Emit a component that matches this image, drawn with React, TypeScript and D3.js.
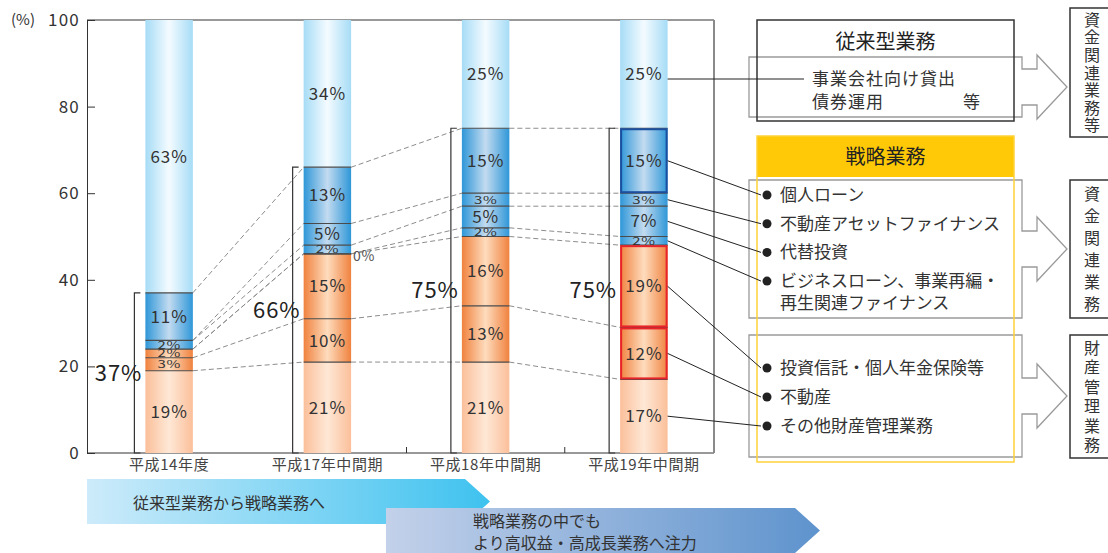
import { useEffect, useRef } from "react";
import * as d3 from "d3";

// Periods on the x axis
const periods = ["平成14年度", "平成17年中間期", "平成18年中間期", "平成19年中間期"];

// Share of each business line (%), stacked bottom to top.
// null = line not reported in that period (no segment, no label)
const sonotaZaisan = [19, 21, 21, 17]; // その他財産管理業務
const fudosan = [3, 10, 13, 12]; // 不動産
const toshinHoken = [2, 15, 16, 19]; // 投資信託・個人年金保険等
const businessLoan = [null, 0, 2, 2]; // ビジネスローン、事業再編・再生関連
const daitaiToshi = [2, 2, 5, 7]; // 代替投資
const fudosanAF = [null, 5, 3, 3]; // 不動産アセットファイナンス
const kojinLoan = [11, 13, 15, 15]; // 個人ローン
const juraigata = [63, 34, 25, 25]; // 従来型業務

const yTicks = [0, 20, 40, 60, 80, 100];

// Right-hand legend texts
const juraiTitle = "従来型業務";
const juraiItems = ["事業会社向け貸出", "債券運用"];
const senryakuTitle = "戦略業務";
const fundingItems = ["個人ローン", "不動産アセットファイナンス", "代替投資", "ビジネスローン、事業再編・"];
const fundingItemCont = "再生関連ファイナンス";
const assetItems = ["投資信託・個人年金保険等", "不動産", "その他財産管理業務"];
const sideLabels = ["資金関連業務等", "資金関連業務", "財産管理業務"];

const arrowTexts1 = ["従来型業務から戦略業務へ"];
const arrowTexts2 = ["戦略業務の中でも", "より高収益・高成長業務へ注力"];

const FONT = "'Noto Sans CJK JP', 'Noto Sans', sans-serif";

const seriesKeys = ["sonota", "fudosan", "toshin", "bizLoan", "daitai", "fudosanAF", "kojin", "jurai"];
const seriesValues: Record<string, (number | null)[]> = {
  sonota: sonotaZaisan,
  fudosan,
  toshin: toshinHoken,
  bizLoan: businessLoan,
  daitai: daitaiToshi,
  fudosanAF,
  kojin: kojinLoan,
  jurai: juraigata,
};
const seriesFill: Record<string, string> = {
  sonota: "gPale",
  fudosan: "gOrange",
  toshin: "gOrange",
  bizLoan: "gBlue",
  daitai: "gBlue",
  fudosanAF: "gBlue",
  kojin: "gBlue",
  jurai: "gSky",
};

export default function App() {
  const svgRef = useRef<SVGSVGElement>(null);

  useEffect(() => {
    if (!svgRef.current) return;
    const svg = d3.select(svgRef.current);
    svg.selectAll("*").remove();

    const plot = { left: 87, right: 714, top: 20, bottom: 453 };

    const rows = periods.map((p, i) => {
      const r: any = { period: p };
      seriesKeys.forEach((k) => (r[k] = seriesValues[k][i]));
      return r;
    });
    const stacked = d3
      .stack<any>()
      .keys(seriesKeys)
      .value((d, k) => d[k] ?? 0)(rows);

    // band range nudged right of the frame so the bars sit where the original has them
    const x = d3
      .scaleBand()
      .domain(periods)
      .range([plot.left + 3, plot.right + 9])
      .paddingInner(0.7)
      .paddingOuter(0.35);
    const bw = x.bandwidth();
    const y = d3.scaleLinear().domain([0, 100]).range([plot.bottom, plot.top]);

    // gradients
    const defs = svg.append("defs");
    const grad = (id: string, edge: string, mid: string) => {
      const g = defs.append("linearGradient").attr("id", id).attr("x1", 0).attr("x2", 1).attr("y1", 0).attr("y2", 0);
      g.append("stop").attr("offset", "0%").attr("stop-color", edge);
      g.append("stop").attr("offset", "50%").attr("stop-color", mid);
      g.append("stop").attr("offset", "100%").attr("stop-color", edge);
    };
    grad("gSky", "#a6dcf6", "#f4fbff");
    grad("gBlue", "#2f97d8", "#c3dbf0");
    grad("gOrange", "#f0823f", "#fedcbd");
    grad("gPale", "#fbbf9a", "#fee8d6");
    const lin = (id: string, stops: [string, string]) => {
      const g = defs.append("linearGradient").attr("id", id).attr("x1", 0).attr("x2", 1);
      g.append("stop").attr("offset", "0%").attr("stop-color", stops[0]);
      g.append("stop").attr("offset", "100%").attr("stop-color", stops[1]);
    };
    lin("gArrow1", ["#cdebfa", "#3ec2ef"]);
    lin("gArrow2", ["#c3d1ea", "#5e93cd"]);

    // Y axis (ticks point inward)
    const yAxis = svg
      .append("g")
      .attr("transform", `translate(${plot.left},0)`)
      .call(d3.axisLeft(y).tickValues(yTicks).tickSize(-8).tickSizeOuter(0).tickPadding(7))
      .attr("color", "#333");
    yAxis
      .selectAll("text")
      .attr("font-size", 17)
      .attr("letter-spacing", 1.2)
      .attr("font-family", FONT)
      .attr("fill", "#333");
    svg
      .append("text")
      .attr("x", 11)
      .attr("y", y(100))
      .attr("dy", "0.35em")
      .attr("font-size", 15)
      .attr("font-family", FONT)
      .attr("fill", "#333")
      .text("(%)");

    // frame
    svg.append("line").attr("x1", plot.left).attr("x2", plot.right).attr("y1", plot.top).attr("y2", plot.top).attr("stroke", "#333");
    svg.append("line").attr("x1", plot.left).attr("x2", plot.right).attr("y1", plot.bottom).attr("y2", plot.bottom).attr("stroke", "#333");
    svg.append("line").attr("x1", plot.right).attr("x2", plot.right).attr("y1", plot.top).attr("y2", plot.bottom).attr("stroke", "#8a8a8a").attr("stroke-width", 2);

    // small x ticks between the consecutive half-year periods
    periods.slice(1, -1).forEach((p, i) => {
      const xm = ((x(p) as number) + bw + (x(periods[i + 2]) as number)) / 2;
      svg.append("line").attr("x1", xm).attr("x2", xm).attr("y1", plot.bottom).attr("y2", plot.bottom - 6).attr("stroke", "#333");
    });

    // X labels
    svg
      .selectAll(".xl")
      .data(periods)
      .join("text")
      .attr("x", (d) => (x(d) as number) + bw / 2)
      .attr("y", plot.bottom + 17)
      .attr("text-anchor", "middle")
      .attr("font-size", 15)
      .attr("letter-spacing", 0.6)
      .attr("font-family", FONT)
      .attr("fill", "#444")
      .text((d) => d);

    // dashed connectors between segment tops of consecutive bars
    stacked
      .filter((s) => s.key !== "jurai")
      .forEach((layer) => {
        for (let i = 0; i < periods.length - 1; i++) {
          svg
            .append("line")
            .attr("x1", (x(periods[i]) as number) + bw)
            .attr("y1", y(layer[i][1]))
            .attr("x2", x(periods[i + 1]) as number)
            .attr("y2", y(layer[i + 1][1]))
            .attr("stroke", "#8c8c8c")
            .attr("stroke-dasharray", "5,3");
        }
      });

    // brackets with strategic share
    const jurai = stacked.find((s) => s.key === "jurai")!;
    periods.forEach((p, i) => {
      const total = jurai[i][0];
      const bx = (x(p) as number) - 11;
      svg
        .append("path")
        .attr("d", `M${bx + 6},${y(total)}H${bx}V${y(0)}H${bx + 6}`)
        .attr("fill", "none")
        .attr("stroke", "#333")
        .attr("stroke-width", 1.2);
      svg
        .append("text")
        .attr("x", bx + 8)
        .attr("y", (y(total) + y(0)) / 2)
        .attr("dy", "0.35em")
        .attr("text-anchor", "end")
        .attr("font-size", 22)
        .attr("letter-spacing", 1)
        .attr("font-family", FONT)
        .attr("fill", "#222")
        .text(`${total}%`);
    });

    // bar segments
    stacked.forEach((layer) => {
      const vals = seriesValues[layer.key];
      layer.forEach((d, i) => {
        const v = vals[i];
        if (v == null || v === 0) return;
        const bx = x(periods[i]) as number;
        svg
          .append("rect")
          .attr("x", bx)
          .attr("y", y(d[1]))
          .attr("width", bw)
          .attr("height", y(d[0]) - y(d[1]))
          .attr("fill", `url(#${seriesFill[layer.key]})`);
      });
    });

    // boundary lines inside bars
    stacked
      .filter((s) => s.key !== "jurai")
      .forEach((layer) => {
        const vals = seriesValues[layer.key];
        layer.forEach((d, i) => {
          if (vals[i] == null) return;
          const bx = x(periods[i]) as number;
          svg.append("line").attr("x1", bx).attr("x2", bx + bw).attr("y1", y(d[1])).attr("y2", y(d[1])).attr("stroke", "#4a4a4a").attr("stroke-width", 1.2);
        });
      });

    // highlighted segments in the latest period
    const last = periods.length - 1;
    const highlight: Record<string, string> = { kojin: "#1c4f9f", toshin: "#e8242b", fudosan: "#e8242b" };
    stacked.forEach((layer) => {
      const c = highlight[layer.key];
      if (!c) return;
      const d = layer[last];
      svg
        .append("rect")
        .attr("x", (x(periods[last]) as number) + 1)
        .attr("y", y(d[1]) + 1)
        .attr("width", bw - 2)
        .attr("height", y(d[0]) - y(d[1]) - 2)
        .attr("fill", "none")
        .attr("stroke", c)
        .attr("stroke-width", 2);
    });

    // segment labels (thin segments get a vertically squashed label, as in the original)
    stacked.forEach((layer) => {
      const vals = seriesValues[layer.key];
      layer.forEach((d, i) => {
        const v = vals[i];
        if (v == null) return;
        const bx = x(periods[i]) as number;
        if (v === 0) {
          svg
            .append("text")
            .attr("x", bx + bw + 2)
            .attr("y", y(d[1]) + 7)
            .attr("font-size", 14)
            .attr("letter-spacing", 0.5)
            .attr("font-family", FONT)
            .attr("fill", "#555")
            .text("0%");
          return;
        }
        const cy = (y(d[0]) + y(d[1])) / 2;
        const thin = v < 4;
        svg
          .append("text")
          .attr("transform", `translate(${bx + bw / 2},${cy}) scale(1,${thin ? 0.72 : 1})`)
          .attr("dy", "0.36em")
          .attr("text-anchor", "middle")
          .attr("font-size", thin ? 15 : 17)
          .attr("letter-spacing", thin ? 0.5 : 0.9)
          .attr("font-family", FONT)
          .attr("fill", "#333")
          .text(`${v}%`);
      });
    });

    // ---------- right panel ----------
    const px0 = 757,
      px1 = 1014,
      gx0 = 749,
      gx1 = 1022;
    const textX = 780;
    const bulletX = 767;

    // gray block arrows
    const blockArrow = (top: number, bottom: number) => {
      const mid = (top + bottom) / 2;
      return `M${gx0},${top}H${gx1}V${mid - 18}H1037V${mid - 32}L1067,${mid}L1037,${mid + 32}V${mid + 18}H${gx1}V${bottom}H${gx0}Z`;
    };
    [
      [57, 117],
      [180, 318],
      [335, 457],
    ].forEach(([t, b]) => {
      svg.append("path").attr("d", blockArrow(t, b)).attr("fill", "none").attr("stroke", "#9a9a9a").attr("stroke-width", 1.3);
    });

    // 従来型業務 box
    svg.append("rect").attr("x", px0).attr("y", 20).attr("width", px1 - px0).attr("height", 101).attr("fill", "none").attr("stroke", "#333").attr("stroke-width", 1.5);
    svg.append("text").attr("x", (px0 + px1) / 2).attr("y", 42).attr("dy", "0.35em").attr("text-anchor", "middle").attr("font-size", 20).attr("font-family", FONT).attr("fill", "#222").text(juraiTitle);
    juraiItems.forEach((t, i) => {
      svg.append("text").attr("x", 812).attr("y", 79 + i * 23).attr("dy", "0.35em").attr("font-size", 17).attr("letter-spacing", 1).attr("font-family", FONT).attr("fill", "#333").text(t);
    });
    svg.append("text").attr("x", 980).attr("y", 102).attr("dy", "0.35em").attr("text-anchor", "end").attr("font-size", 17).attr("font-family", FONT).attr("fill", "#333").text("等");

    // 戦略業務 header and outline
    svg.append("rect").attr("x", px0).attr("y", 136).attr("width", px1 - px0).attr("height", 41).attr("fill", "#ffc907");
    svg.append("rect").attr("x", px0).attr("y", 136).attr("width", px1 - px0).attr("height", 326).attr("fill", "none").attr("stroke", "#ffd23a").attr("stroke-width", 1.5);
    svg.append("text").attr("x", (px0 + px1) / 2).attr("y", 157).attr("dy", "0.35em").attr("text-anchor", "middle").attr("font-size", 20).attr("font-family", FONT).attr("fill", "#222").text(senryakuTitle);

    const itemYs: number[] = [];
    const drawItem = (t: string, yy: number) => {
      svg.append("circle").attr("cx", bulletX).attr("cy", yy).attr("r", 4.5).attr("fill", "#222");
      svg.append("text").attr("x", textX).attr("y", yy).attr("dy", "0.35em").attr("font-size", 17).attr("font-family", FONT).attr("fill", "#333").text(t);
      itemYs.push(yy);
    };
    fundingItems.forEach((t, i) => drawItem(t, 195 + i * 28.7));
    svg.append("text").attr("x", textX).attr("y", 195 + 3 * 28.7 + 22).attr("dy", "0.35em").attr("font-size", 17).attr("font-family", FONT).attr("fill", "#333").text(fundingItemCont);
    assetItems.forEach((t, i) => drawItem(t, 368 + i * 29));

    // vertical side labels (vertical writing, spread to fill each box)
    const sideFont = 16;
    [
      [8, 137],
      [180, 318],
      [335, 458],
    ].forEach(([t, b], k) => {
      svg.append("rect").attr("x", 1070).attr("y", t).attr("width", 60).attr("height", b - t).attr("fill", "none").attr("stroke", "#333").attr("stroke-width", 1.5);
      const n = Array.from(sideLabels[k]).length;
      const spacing = (b - t - 6) / n - sideFont;
      svg
        .append("text")
        .attr("x", 1092)
        .attr("y", t + 3 + spacing / 2)
        .attr("style", "writing-mode: vertical-rl")
        .attr("letter-spacing", spacing)
        .attr("font-size", sideFont)
        .attr("font-family", FONT)
        .attr("fill", "#333")
        .text(sideLabels[k]);
    });

    // leader lines from the latest bar to the legend
    const lx = (x(periods[last]) as number) + bw;
    const mid = (key: string) => {
      const d = stacked.find((s) => s.key === key)![last];
      return (y(d[0]) + y(d[1])) / 2;
    };
    const leaders: [string, number, number][] = [
      ["jurai", 804, 79],
      ["kojin", bulletX - 6, itemYs[0]],
      ["fudosanAF", bulletX - 6, itemYs[1]],
      ["daitai", bulletX - 6, itemYs[2]],
      ["bizLoan", bulletX - 6, itemYs[3]],
      ["toshin", bulletX - 6, itemYs[4]],
      ["fudosan", bulletX - 6, itemYs[5]],
      ["sonota", bulletX - 6, itemYs[6]],
    ];
    leaders.forEach(([k, tx, ty]) => {
      const yy = k === "jurai" ? ty : mid(k);
      svg.append("line").attr("x1", lx).attr("y1", yy).attr("x2", tx).attr("y2", ty).attr("stroke", "#222").attr("stroke-width", 1);
    });

    // ---------- bottom arrows ----------
    const flatArrow = (x0: number, x1: number, tip: number, t: number, b: number) =>
      `M${x0},${t}H${x1}L${tip},${(t + b) / 2}L${x1},${b}H${x0}Z`;
    svg.append("path").attr("d", flatArrow(87, 465, 490, 479, 524)).attr("fill", "url(#gArrow1)");
    svg.append("path").attr("d", flatArrow(386, 795, 820, 508, 553)).attr("fill", "url(#gArrow2)");
    arrowTexts1.forEach((t) => {
      svg.append("text").attr("x", 133).attr("y", 503).attr("dy", "0.35em").attr("font-size", 16).attr("font-family", FONT).attr("fill", "#333").text(t);
    });
    arrowTexts2.forEach((t, i) => {
      svg.append("text").attr("x", 473).attr("y", 521 + i * 22).attr("dy", "0.35em").attr("font-size", 16).attr("font-family", FONT).attr("fill", "#333").text(t);
    });
  }, []);

  return (
    <svg
      ref={svgRef}
      width={1108}
      height={553}
      style={{ position: "absolute", left: 0, top: 0, background: "#fff" }}
    />
  );
}
